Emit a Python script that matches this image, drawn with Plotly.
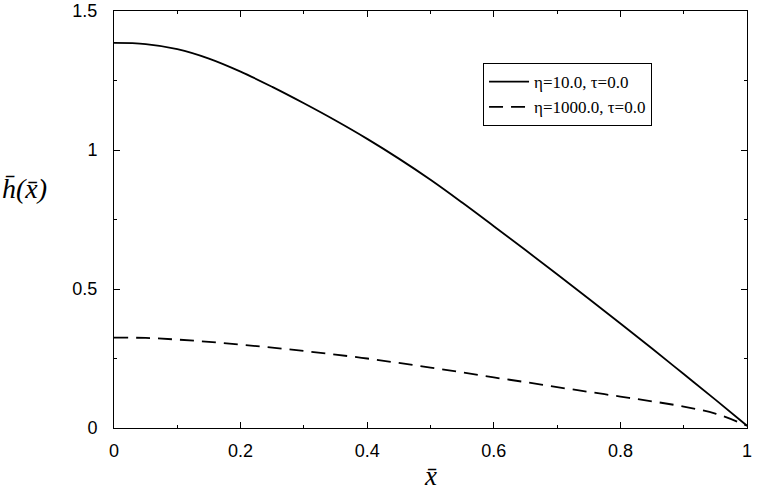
import plotly.graph_objects as go

x_vals = [0.0, 0.05, 0.1, 0.15, 0.2, 0.25, 0.3, 0.35, 0.4, 0.45, 0.5, 0.55, 0.6, 0.65, 0.7, 0.75, 0.8, 0.85, 0.9, 0.95, 1.0]
h_eta10 = [1.385, 1.381, 1.363, 1.329, 1.282, 1.227, 1.168, 1.106, 1.040, 0.969, 0.893, 0.811, 0.726, 0.640, 0.553, 0.465, 0.376, 0.286, 0.194, 0.102, 0.008]
h_eta1000 = [0.325, 0.324, 0.318, 0.31, 0.300, 0.289, 0.277, 0.264, 0.250, 0.234, 0.217, 0.200, 0.182, 0.165, 0.147, 0.130, 0.113, 0.096, 0.077, 0.052, 0.008]
names = ["η=10.0, τ=0.0", "η=1000.0, τ=0.0"]
x_ticks = [0, 0.2, 0.4, 0.6, 0.8, 1]
x_tick_text = ["0", "0.2", "0.4", "0.6", "0.8", "1"]
y_ticks = [0, 0.5, 1, 1.5]
y_tick_text = ["0", "0.5", "1", "1.5"]

fig = go.Figure()
fig.add_trace(go.Scatter(x=x_vals, y=h_eta10, mode="lines", name=names[0],
                         line=dict(color="black", width=1.8, shape="spline", smoothing=1.0)))
fig.add_trace(go.Scatter(x=x_vals, y=h_eta1000, mode="lines", name=names[1],
                         line=dict(color="black", width=1.8, dash="14px,8px", shape="spline", smoothing=1.0)))

axis_common = dict(showgrid=False, zeroline=False, showline=True, linecolor="black", linewidth=1,
                   ticks="inside", ticklen=6, tickcolor="black", mirror="ticks", automargin=False,
                   tickfont=dict(family="Liberation Sans, Arial", size=18, color="black"))

fig.update_xaxes(range=[0, 1], tickvals=x_ticks, ticktext=x_tick_text, ticklabelstandoff=6,
                 minor=dict(ticks="inside", ticklen=3, dtick=0.1, tickcolor="black"),
                 **axis_common)
fig.update_yaxes(range=[0, 1.5], tickvals=y_ticks, ticktext=y_tick_text, ticklabelstandoff=12,
                 minor=dict(ticks="inside", ticklen=3, dtick=0.25, tickcolor="black"),
                 **axis_common)

fig.add_annotation(text="<i>x̄</i>", xref="paper", yref="paper", x=0.5, y=-0.115,
                   xanchor="center", yanchor="middle", showarrow=False,
                   font=dict(family="Liberation Serif, Times New Roman", size=27, color="black"))
fig.add_annotation(text="<i>h̄(x̄)</i>", xref="paper", yref="paper", x=-0.142, y=0.575,
                   xanchor="center", yanchor="middle", showarrow=False,
                   font=dict(family="Liberation Serif, Times New Roman", size=28, color="black"))

fig.update_layout(
    width=768, height=490,
    margin=dict(l=114, r=21, t=11, b=62),
    paper_bgcolor="white", plot_bgcolor="white",
    showlegend=True,
    legend=dict(x=0.583, y=0.875, xanchor="left", yanchor="top",
                bordercolor="black", borderwidth=1, bgcolor="white",
                font=dict(family="Liberation Serif, Times New Roman", size=17, color="black"),
                tracegroupgap=0, itemwidth=40),
)

fig.write_html("out.html")
